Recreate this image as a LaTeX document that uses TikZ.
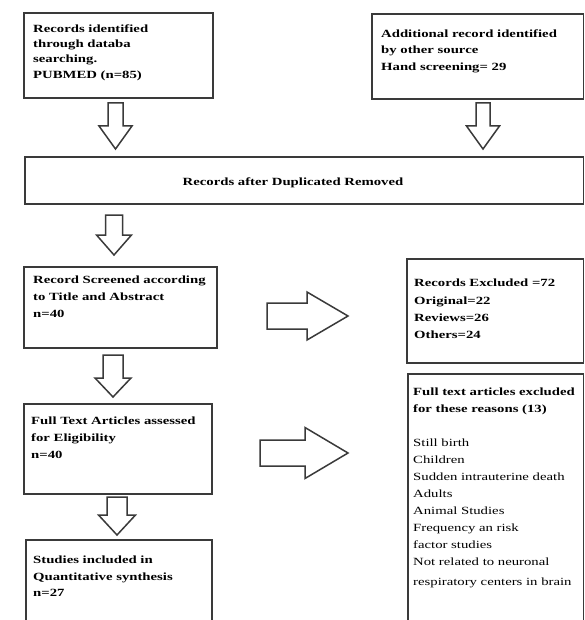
\documentclass[tikz,border=0pt]{standalone}
\usepackage{fontspec}
\setmainfont{Liberation Serif}[FakeStretch=1.34]
\definecolor{boxgray}{HTML}{3A3A3A}
\tikzset{
  box/.style={draw=boxgray, line width=1.6pt, rectangle, inner sep=0pt, anchor=north west},
  txt/.style={anchor=north west, inner sep=0pt, align=left, text width=#1,
    font=\fontsize{11}{16.5}\selectfont\bfseries},
  txt/.default=200pt,
  blk/.style={draw=boxgray, line width=1.5pt, fill=white, line join=miter}
}
\hyphenpenalty=10000
\newcommand{\dnarrow}[6]{% cx, y0, yh, yt, sw, hw
  \draw[blk] (#1-#5,#2) -- (#1+#5,#2) -- (#1+#5,#3) -- (#1+#6,#3) -- (#1,#4)
    -- (#1-#6,#3) -- (#1-#5,#3) -- cycle;}
\newcommand{\rtarrow}[6]{% x0, xh, xt, cy, sw, hw
  \draw[blk] (#1,#4-#5) -- (#2,#4-#5) -- (#2,#4-#6) -- (#3,#4) -- (#2,#4+#6)
    -- (#2,#4+#5) -- (#1,#4+#5) -- cycle;}
\begin{document}
\begin{tikzpicture}[x=1pt,y=-1pt]
\useasboundingbox (0,0) rectangle (584,620);
\clip (0,0) rectangle (584,620);
\fill[white] (0,0) rectangle (584,620);

% boxes
\node[box, minimum width=189pt, minimum height=85pt]   (b1)  at (23,12)  {};
\node[box, minimum width=211.5pt, minimum height=85pt] (b2)  at (371,13) {};
\node[box, minimum width=558.5pt, minimum height=47pt] (dup) at (24,156) {};
\node[box, minimum width=193pt, minimum height=81pt]   (scr) at (23,266) {};
\node[box, minimum width=176.5pt, minimum height=104pt](exc) at (406,258) {};
\node[box, minimum width=188pt, minimum height=90pt]   (ft)  at (23,403) {};
\node[box, minimum width=175.5pt, minimum height=267pt](ftx) at (407,373) {};
\node[box, minimum width=186pt, minimum height=101pt]  (inc) at (25,539) {};

% texts
\node[txt, font=\fontsize{11}{15.2}\selectfont\bfseries] (t1) at (33,24.5)
  {Records identified\\through databa\\searching.\\PUBMED (n=85)};
\node[txt] (t2) at (381,29.5)
  {Additional record identified\\by other source\\Hand screening= 29};
\node[anchor=base, inner sep=0pt, font=\fontsize{11}{16.5}\selectfont\bfseries] (tdup) at (293,185.5)
  {Records after Duplicated Removed};
\node[txt, font=\fontsize{11}{17}\selectfont\bfseries] (tscr) at (33,276)
  {Record Screened according\\to Title and Abstract\\n=40};
\node[txt, font=\fontsize{11}{17.3}\selectfont\bfseries] (texc) at (414,279)
  {Records Excluded =72\\Original=22\\Reviews=26\\Others=24};
\node[txt, font=\fontsize{11}{17}\selectfont\bfseries] (tft) at (31,417)
  {Full Text Articles assessed\\for Eligibility\\n=40};
\node[txt, font=\fontsize{11}{17}\selectfont\bfseries] (tftx) at (413,388)
  {Full text articles excluded\\for these reasons (13)\\[16.5pt]
   \mdseries Still birth\\Children\\Sudden intrauterine death\\Adults\\Animal Studies\\Frequency an risk\\factor studies\\Not related to neuronal\\[3pt]respiratory centers in brain};
\node[txt, font=\fontsize{11}{16.5}\selectfont\bfseries] (tinc) at (33,556)
  {Studies included in\\Quantitative synthesis\\n=27};

% block arrows
\dnarrow{115.5}{103}{126}{149}{7.5}{16.5}
\dnarrow{483}{103}{126}{149}{7}{16.5}
\dnarrow{114}{215}{235}{255}{8.5}{17.5}
\dnarrow{113}{355}{378}{397}{10}{18}
\dnarrow{117}{497}{515}{535}{10}{18.5}
\rtarrow{267}{307}{348}{316}{13}{24}
\rtarrow{260}{305}{348}{453}{13}{25.5}
\end{tikzpicture}
\end{document}
